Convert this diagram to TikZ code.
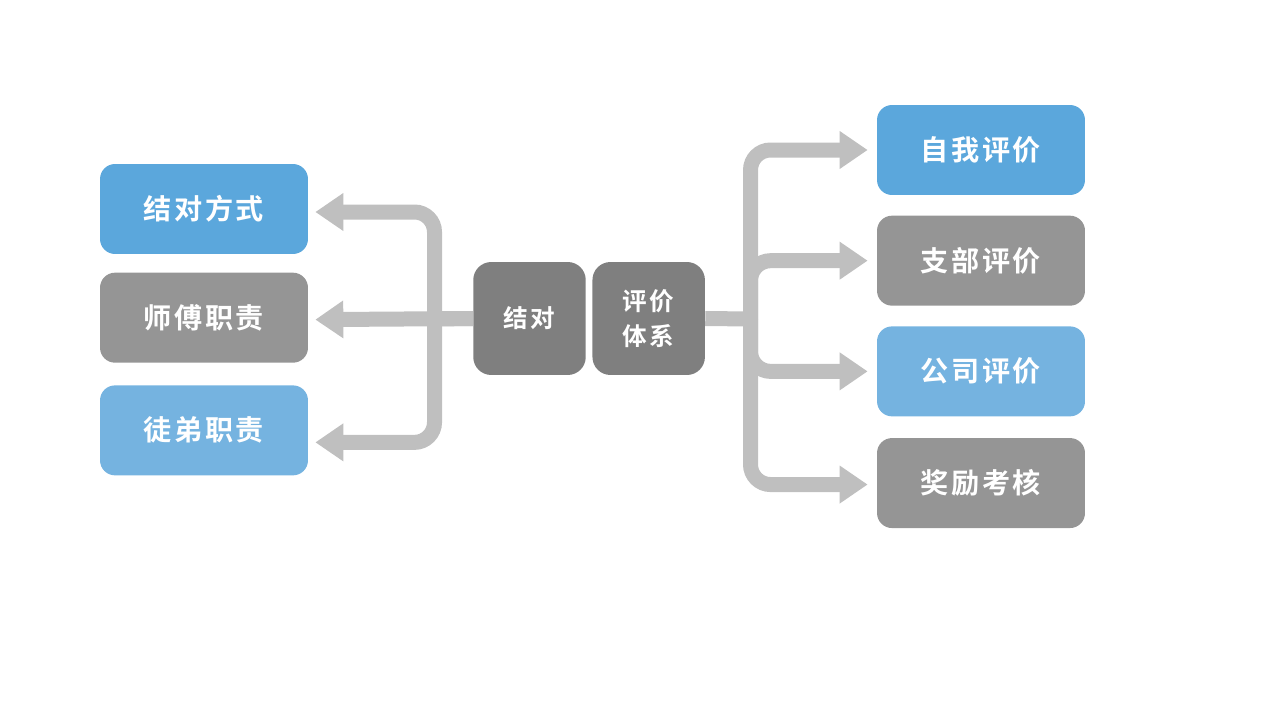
\documentclass[tikz,border=0pt]{standalone}
\usepackage{fontspec}
\newfontfamily\cjk[LetterSpace=9]{Noto Sans CJK SC Bold}
\usepackage{tikz}
\usetikzlibrary{arrows.meta,positioning,calc}

\definecolor{boxblue}{RGB}{91,167,220}
\definecolor{boxlight}{RGB}{117,179,224}
\definecolor{boxgray}{RGB}{149,149,149}
\definecolor{hubgray}{RGB}{127,127,127}
\definecolor{linkgray}{RGB}{191,191,191}

\begin{document}
\begin{tikzpicture}[
    x=0.02cm, y=-0.02cm,
    item/.style={rectangle, rounded corners=0.3cm, minimum width=4.16cm, minimum height=1.8cm, inner sep=0pt, text=white, font=\cjk\fontsize{16pt}{19pt}\selectfont},
    hub/.style={rectangle, rounded corners=0.36cm, fill=hubgray, minimum width=2.25cm, minimum height=2.26cm, inner sep=0pt, text=white, align=center, font=\cjk\fontsize{14pt}{20pt}\selectfont},
    link/.style={draw=linkgray, line width=0.3cm, rounded corners=0.4cm},
    tipleft/.style={link, -{Triangle[length=0.56cm, width=0.72cm]}, shorten >=0.14cm},
    tipright/.style={link, -{Triangle[length=0.56cm, width=0.72cm]}, shorten >=0.18cm}
]
\useasboundingbox (0,0) rectangle (1280,720);

% Centre
\node[hub] (pair) at (529.5,318.5) {结对};
\node[hub, right=0.12cm of pair] (eval) {评价\\体系};

% Left column
\node[item, fill=boxblue] (way) at (204,209) {结对方式};
\node[item, fill=boxgray, below=0.36cm of way] (master) {师傅职责};
\node[item, fill=boxlight, below=0.44cm of master] (apprentice) {徒弟职责};

% Right column
\node[item, fill=boxblue] (self) at (981,150) {自我评价};
\node[item, fill=boxgray, below=0.4cm of self] (branch) {支部评价};
\node[item, fill=boxlight, below=0.4cm of branch] (company) {公司评价};
\node[item, fill=boxgray, below=0.42cm of company] (reward) {奖励考核};

% Junctions
\coordinate (ljoin) at (434.5,319);
\coordinate (rjoin) at (750.5,319);

% Left arrows
\draw[link] (pair.west) -- (ljoin);
\draw[tipleft] (ljoin) |- ([yshift=-0.06cm]way.east);
\draw[tipleft] (pair.west) -- ([yshift=-0.04cm]master.east);
\draw[tipleft] (ljoin) |- ([yshift=-0.24cm]apprentice.east);

% Right arrows
\draw[link] (eval.east) -- (rjoin);
\draw[tipright] (rjoin) |- (self.west);
\draw[tipright] (rjoin) |- (branch.west);
\draw[tipright] (rjoin) |- (company.west);
\draw[tipright] (rjoin) |- ([yshift=-0.03cm]reward.west);

\end{tikzpicture}
\end{document}
